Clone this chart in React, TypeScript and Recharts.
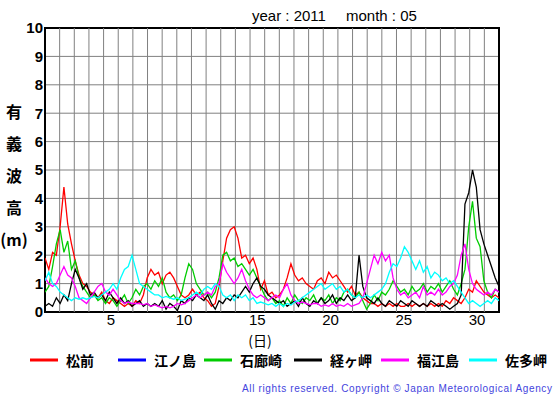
import React from "react";
import { LineChart, Line, XAxis, YAxis, CartesianGrid, ReferenceLine, ReferenceArea } from "recharts";

// Sampling of the traces: start of 1 May at 0.5 on the day axis,
// 121 readings spread evenly to the end of 31 May.
const START_DAY = 0.5;
const STEP_DAYS = 31 / 120;

const matsumae = [
  1.9, 1.5, 2.1, 2.0, 3.0, 4.4, 3.1, 2.4, 1.8, 1.3, 1.0, 0.9, 0.7, 0.6, 0.5, 0.7, 0.4, 0.3, 0.5, 0.4,
  0.3, 0.2, 0.3, 0.2, 0.4, 0.3, 0.6, 1.2, 1.5, 1.3, 1.4, 1.0, 1.3, 1.4, 1.2, 0.9, 0.6, 0.5, 0.6, 0.8,
  0.6, 0.7, 0.5, 0.4, 0.2, 0.3, 0.9, 1.8, 2.6, 2.9, 3.0, 2.6, 1.9, 2.0, 1.7, 1.9, 1.5, 0.8, 1.1, 0.6,
  0.7, 0.5, 0.6, 0.8, 1.2, 1.7, 1.3, 1.1, 1.2, 1.0, 0.9, 0.8, 1.1, 1.2, 1.0, 1.4, 1.2, 1.3, 1.1, 0.9,
  0.7, 0.9, 0.6, 0.7, 0.5, 0.4, 0.3, 0.3, 0.2, 0.3, 0.2, 0.3, 0.2, 0.3, 0.2, 0.2, 0.3, 0.2, 0.3, 0.2,
  0.3, 0.2, 0.3, 0.2, 0.3, 0.2, 0.4, 0.3, 0.5, 0.4, 0.3, 0.5, 0.8, 0.7, 1.1, 0.9, 0.7, 0.6, 0.5, 0.6,
  0.5,
];
const enoshima: (number | null)[] = [];
const irozaki = [
  0.7, 0.9, 1.6, 2.4, 2.9, 2.1, 2.5, 1.5, 1.8, 1.2, 0.9, 0.7, 0.5, 0.6, 0.4, 0.5, 0.3, 0.5, 0.4, 0.2,
  0.4, 0.6, 0.3, 0.5, 0.8, 0.6, 0.9, 1.0, 0.8, 1.1, 0.9, 1.2, 0.7, 0.5, 0.6, 0.4, 0.6, 1.2, 1.7, 1.5,
  1.0, 0.8, 0.6, 0.7, 0.5, 0.7, 1.2, 2.0, 2.1, 1.8, 1.9, 1.6, 1.7, 1.5, 1.3, 1.5, 1.2, 0.9, 0.6, 0.4,
  0.5, 0.3, 0.4, 0.2, 0.5, 0.3, 0.6, 0.4, 0.3, 0.5, 0.4, 0.6, 0.3, 0.5, 0.4, 0.6, 0.3, 0.5, 0.4, 0.7,
  0.8, 0.6, 0.5, 0.7, 0.4, 0.1, 0.3, 0.6, 0.4, 0.7, 0.6, 0.8, 1.1, 0.9, 0.7, 0.8, 0.6, 0.9, 0.7, 0.8,
  1.0, 0.7, 0.9, 0.8, 1.0, 0.7, 0.9, 1.1, 0.8, 0.6, 1.0, 1.5, 3.0, 3.9, 2.6, 2.3, 1.1, 0.7, 0.5, 0.8,
  0.7,
];
const kyogamisaki = [
  0.2, 0.3, 0.2, 0.5, 0.3, 0.6, 0.4, 1.0, 1.5, 1.2, 0.8, 1.0, 0.6, 0.7, 0.5, 0.6, 0.4, 0.7, 0.5, 0.3,
  0.5, 0.3, 0.4, 0.2, 0.3, 0.4, 0.2, 0.3, 0.2, 0.3, 0.2, 0.4, 0.1, 0.3, 0.2, 0.05, 0.4, 0.3, 0.5, 0.4,
  0.6, 0.5, 0.4, 0.6, 0.3, 0.1, 0.4, 0.3, 0.5, 0.4, 0.6, 0.5, 0.7, 0.9, 0.7, 1.0, 1.2, 0.9, 0.8, 0.6,
  0.5, 0.4, 0.3, 0.4, 0.2, 0.3, 0.4, 0.2, 0.5, 0.3, 0.2, 0.4, 0.3, 0.5, 0.3, 0.4, 0.6, 0.3, 0.5, 0.4,
  0.6, 0.4, 0.5, 2.0, 0.9, 0.5, 0.4, 0.3, 0.5, 0.3, 0.2, 0.4, 0.3, 0.2, 0.4, 0.3, 0.2, 0.4, 0.3, 0.2,
  0.3, 0.2, 0.4, 0.3, 0.2, 0.3, 0.2, 0.1, 0.2, 0.3, 0.6, 3.8, 4.2, 5.0, 4.4, 2.9, 2.4, 2.0, 1.6, 1.2,
  0.9,
];
const fukue = [
  1.2, 1.0, 0.9, 1.0, 1.3, 1.6, 1.3, 1.2, 0.9, 0.5, 0.4, 0.3, 0.5, 0.7, 0.9, 1.0, 0.7, 0.6, 0.8, 0.6,
  0.4, 0.3, 0.35, 0.3, 0.3, 0.3, 0.25, 0.3, 0.2, 0.25, 0.2, 0.15, 0.2, 0.15, 0.2, 0.3, 0.25, 0.3, 0.4, 0.5,
  0.6, 0.5, 0.6, 0.7, 0.6, 0.9, 1.0, 1.7, 1.4, 1.2, 1.0, 1.2, 1.5, 1.1, 0.8, 0.6, 0.5, 0.6, 0.5, 0.4,
  0.5, 0.6, 0.5, 0.8, 1.0, 0.6, 0.4, 0.3, 0.35, 0.3, 0.25, 0.3, 0.3, 0.2, 0.25, 0.2, 0.3, 0.2, 0.25, 0.2,
  0.3, 0.2, 0.25, 0.3, 0.5, 1.0, 1.5, 2.0, 1.7, 2.1, 1.8, 2.0, 1.2, 0.8, 0.6, 0.7, 0.5, 0.6, 0.7, 0.5,
  0.9, 0.6, 0.7, 0.6, 0.8, 0.6, 0.7, 0.9, 1.0, 1.3, 2.0, 2.4, 1.5, 1.0, 0.8, 0.7, 0.6, 0.7, 0.6, 0.8,
  0.7,
];
const sata = [
  1.1, 1.4, 1.0, 0.9, 0.7, 0.6, 0.5, 0.4, 0.5, 0.45, 0.5, 0.45, 0.5, 0.55, 0.5, 0.6, 0.7, 0.8, 1.0, 0.8,
  1.2, 1.5, 1.6, 2.0, 1.5, 1.0, 0.9, 0.8, 0.7, 0.6, 0.6, 0.5, 0.55, 0.5, 0.45, 0.5, 0.4, 0.45, 0.5, 0.6,
  0.7, 0.6, 0.8, 0.9, 0.8, 1.0, 0.9, 0.6, 0.5, 0.6, 0.4, 0.6, 0.5, 0.6, 0.4, 0.5, 0.3, 0.35, 0.3, 0.25,
  0.3, 0.2, 0.3, 0.2, 0.3, 0.25, 0.35, 0.4, 0.5, 0.6, 0.7, 0.8, 0.9, 1.0, 0.8, 0.9, 1.0, 0.8, 0.9, 0.7,
  0.8, 0.6, 0.5, 0.6, 0.5, 0.6, 0.5, 0.6, 0.7, 0.8, 1.0, 1.4, 1.7, 1.6, 1.9, 2.3, 2.1, 1.8, 1.5, 1.8,
  1.4, 1.6, 1.2, 1.4, 1.3, 1.1, 1.2, 1.0, 1.1, 0.9, 0.7, 0.5, 0.3, 0.4, 0.3, 0.2, 0.3, 0.4, 0.3, 0.5,
  0.4,
];

const stations = [
  { key: "matsumae", name: "松前", color: "#ff0000", values: matsumae },
  { key: "enoshima", name: "江ノ島", color: "#0000ff", values: enoshima },
  { key: "irozaki", name: "石廊崎", color: "#00cc00", values: irozaki },
  { key: "kyogamisaki", name: "経ヶ岬", color: "#000000", values: kyogamisaki },
  { key: "fukue", name: "福江島", color: "#ff00ff", values: fukue },
  { key: "sata", name: "佐多岬", color: "#00ffff", values: sata },
];

const xTicks = [5, 10, 15, 20, 25, 30];
const yTicks = [0, 1, 2, 3, 4, 5, 6, 7, 8, 9, 10];
const dayBoundaries = Array.from({ length: 30 }, (_, i) => i + 1.5);
const yLabelChars = ["有", "義", "波", "高", "(m)"];
const legendX = [30, 118, 204, 294, 381, 469];
const titleYear = "year : 2011";
const titleMonth = "month : 05";

const rows = matsumae.map((_, i) => {
  const r: Record<string, number | null> = { x: START_DAY + i * STEP_DAYS };
  stations.forEach((s) => {
    r[s.key] = s.values[i] ?? null;
  });
  return r;
});

const FONT = "'Liberation Sans', Arial, sans-serif";
const CJK = "'Noto Sans CJK JP', sans-serif";

export default function App() {
  return (
    <div style={{ position: "absolute", left: 0, top: 0, width: 555, height: 395, background: "#fff" }}>
      <LineChart width={555} height={395} data={rows} margin={{ top: 28, right: 56, bottom: 0, left: 0 }}>
        <CartesianGrid vertical={false} stroke="#808080" strokeWidth={1} />
        {dayBoundaries.map((d) => (
          <ReferenceLine key={d} x={d} stroke="#808080" strokeWidth={1} ifOverflow="hidden" />
        ))}
        <XAxis
          type="number"
          dataKey="x"
          domain={[0.5, 31.5]}
          ticks={xTicks}
          allowDataOverflow
          height={83}
          tickLine={false}
          axisLine={false}
          tickSize={0}
          tickMargin={2}
          tick={{ fontSize: 15, fill: "#000", fontFamily: FONT }}
        />
        <YAxis
          type="number"
          domain={[0, 10]}
          ticks={yTicks}
          width={45}
          tickLine={false}
          axisLine={false}
          tickSize={0}
          tickMargin={2}
          interval={0}
          tick={{ fontSize: 15, fontWeight: "bold", fill: "#000", fontFamily: FONT }}
        />
        {stations.map((s) => (
          <Line
            key={s.key}
            type="linear"
            dataKey={s.key}
            name={s.name}
            stroke={s.color}
            strokeWidth={1.3}
            dot={false}
            isAnimationActive={false}
            connectNulls={false}
          />
        ))}
        <ReferenceArea x1={0.5} x2={31.5} y1={0} y2={10} fill="none" stroke="#000" strokeWidth={2} ifOverflow="visible" />
      </LineChart>
      <svg width={555} height={395} style={{ position: "absolute", left: 0, top: 0, pointerEvents: "none" }}>
        <text x={252} y={21} fontSize={15} fontFamily={FONT} fill="#000">{titleYear}</text>
        <text x={346} y={21} fontSize={15} fontFamily={FONT} fill="#000">{titleMonth}</text>
        {yLabelChars.map((c, i) => (
          <text
            key={c}
            x={14}
            y={111 + i * 32}
            textAnchor="middle"
            dominantBaseline="central"
            fontSize={16}
            fontWeight="bold"
            fontFamily={CJK}
            fill="#000"
          >
            {c}
          </text>
        ))}
        <text x={260} y={340} textAnchor="middle" dominantBaseline="central" fontSize={14} fontFamily={CJK} fill="#000">
          (日)
        </text>
        {stations.map((s, i) => (
          <g key={s.key}>
            <line x1={legendX[i]} x2={legendX[i] + 28} y1={360} y2={360} stroke={s.color} strokeWidth={3} />
            <text
              x={legendX[i] + 36}
              y={360}
              dominantBaseline="central"
              fontSize={14}
              fontWeight="bold"
              fontFamily={CJK}
              fill="#000"
            >
              {s.name}
            </text>
          </g>
        ))}
        <text
          x={242}
          y={388}
          dominantBaseline="central"
          fontSize={10}
          fontFamily={FONT}
          fill="#4444dd"
          textLength={310}
          lengthAdjust="spacing"
        >
          All rights reserved. Copyright © Japan Meteorological Agency
        </text>
      </svg>
    </div>
  );
}
